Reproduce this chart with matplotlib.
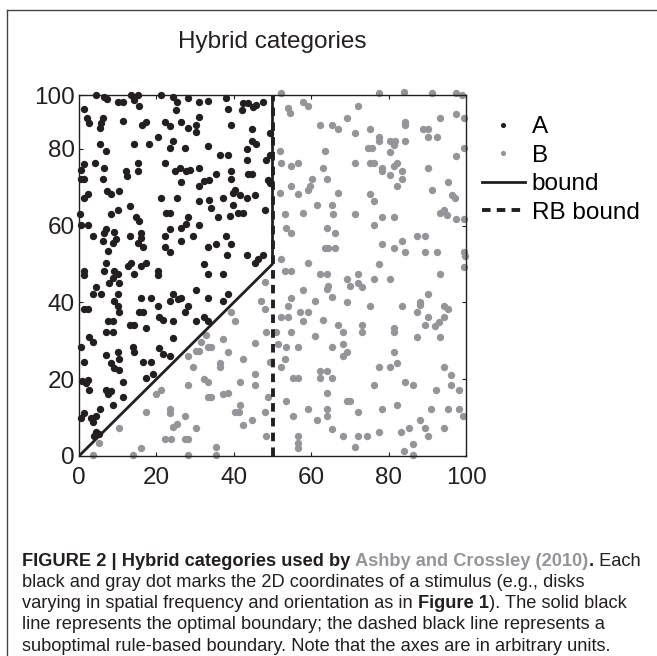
import matplotlib
matplotlib.use('Agg')
import matplotlib.pyplot as plt
from matplotlib.font_manager import FontProperties
from matplotlib.lines import Line2D

plt.rcParams['font.family'] = ['Liberation Sans', 'DejaVu Sans']

# category A stimuli (black)
a_points = [
    (4.4, 94.1), (6.5, 93.5), (7.2, 92.9), (10.2, 92.2), (11.3, 92.2), (13.4, 94.1), (14.3, 92.6),
    (15.6, 91.2), (15.2, 94.1), (21.2, 94.1), (24.2, 93.5), (25.4, 92.2), (28.1, 93.2), (31.0, 92.2),
    (33.3, 92.4), (1.2, 90.3), (2.0, 87.9), (2.6, 86.6), (6.1, 88.1), (5.8, 86.6), (5.5, 85.3),
    (11.3, 87.2), (16.2, 86.2), (17.3, 87.0), (22.1, 87.0), (23.6, 86.0), (25.1, 90.1), (26.4, 87.0),
    (28.1, 85.3), (30.3, 86.2), (30.3, 84.3), (31.1, 88.3), (20.4, 83.1), (5.5, 81.2), (7.0, 79.3),
    (14.3, 81.2), (18.2, 81.2), (23.4, 80.1), (24.2, 82.0), (27.3, 80.1), (33.3, 80.6), (1.4, 76.0),
    (0.5, 74.5), (0.5, 72.2), (1.4, 72.2), (4.1, 76.2), (6.5, 75.1), (6.1, 72.2), (12.2, 74.2),
    (12.4, 73.0), (15.2, 76.2), (15.2, 74.2), (22.2, 76.2), (24.7, 74.2), (26.0, 75.1), (26.4, 71.3),
    (27.7, 74.1), (28.6, 74.5), (31.1, 75.1), (31.1, 70.2), (32.4, 71.7), (33.7, 71.9), (1.4, 67.3),
    (2.2, 68.2), (7.2, 69.1), (8.3, 68.2), (10.4, 69.1), (13.3, 65.0), (21.2, 67.2), (25.4, 67.2),
    (31.1, 66.3), (33.7, 66.7), (0.3, 63.0), (8.3, 63.0), (10.2, 64.1), (14.7, 62.2), (22.5, 63.3),
    (23.4, 63.3), (28.1, 62.2), (34.0, 64.6),
    (38.1, 93.3), (38.5, 90.3), (42.4, 92.0), (43.7, 91.8), (45.0, 90.9), (45.8, 91.4), (47.6, 92.2),
    (42.0, 90.1), (39.4, 86.2), (44.6, 85.1), (49.3, 84.0), (44.6, 82.0), (45.8, 81.2), (43.3, 80.0),
    (36.4, 78.4), (38.5, 78.4), (43.3, 77.1), (48.4, 77.1), (49.3, 78.4), (35.5, 73.4), (39.4, 74.1),
    (39.4, 72.2), (43.7, 73.4), (44.6, 73.4), (48.9, 71.9), (49.3, 71.1), (40.2, 69.3), (39.8, 68.5),
    (41.5, 68.0), (37.2, 67.3), (43.3, 67.2), (45.4, 68.0), (39.8, 65.4), (41.1, 63.3), (42.4, 63.3),
    (48.0, 64.1), (35.9, 62.2), (38.9, 62.4),
    (15.6, 61.1), (0.5, 60.1), (2.2, 60.1), (7.0, 59.2), (6.5, 58.1), (9.1, 58.3), (3.5, 57.2),
    (6.1, 56.1), (8.7, 55.5), (9.6, 56.4), (7.4, 53.3), (13.3, 57.2), (16.0, 58.1), (16.0, 56.8),
    (15.2, 55.5), (16.5, 54.4), (22.1, 57.2), (23.4, 59.2), (26.4, 59.4), (27.7, 60.4), (26.4, 56.1),
    (29.4, 57.2), (31.1, 60.1), (22.1, 54.4), (23.4, 53.2), (33.3, 54.4), (1.4, 48.3), (1.4, 47.1),
    (7.0, 50.3), (6.5, 48.2), (9.1, 48.3), (10.0, 47.3), (8.7, 46.4), (7.8, 45.1), (10.4, 45.1),
    (4.4, 44.0), (12.6, 49.5), (13.4, 50.3), (14.3, 47.3), (16.0, 49.5), (17.3, 50.3), (20.4, 48.3),
    (20.4, 47.1), (32.4, 50.1), (33.3, 47.3), (3.5, 42.3), (5.7, 42.3), (10.0, 42.3), (9.1, 40.4),
    (10.0, 39.1), (10.4, 37.4), (1.4, 38.2), (2.2, 38.2), (16.0, 41.1), (18.5, 41.1), (20.4, 39.1),
    (23.4, 40.4), (24.2, 42.3), (25.5, 40.8), (26.4, 41.2), (28.1, 39.1), (27.3, 37.4), (30.3, 43.2),
    (20.8, 36.1), (21.6, 35.4), (24.2, 35.2), (15.6, 37.4), (16.5, 37.4), (7.4, 35.2), (8.7, 35.2),
    (13.3, 34.2), (14.3, 34.2), (17.3, 33.3), (30.3, 35.2), (32.4, 36.2), (33.3, 35.2), (7.0, 32.4),
    (8.7, 32.4), (2.6, 31.1), (24.2, 30.7),
    (38.1, 57.2), (39.4, 55.2), (35.5, 55.2), (38.3, 52.3), (43.3, 52.3), (45.4, 50.3), (46.3, 51.2),
    (47.6, 52.3), (37.2, 47.3), (33.3, 41.1), (37.2, 40.4), (38.5, 42.3),
    (3.5, 29.6), (0.5, 28.5), (7.0, 26.4), (10.0, 27.2), (10.4, 25.3), (13.9, 28.3), (14.3, 27.2),
    (16.5, 24.4), (18.6, 24.4), (20.8, 28.1), (21.6, 26.6), (23.4, 26.1), (1.4, 24.4), (8.3, 24.1),
    (9.1, 22.9), (10.4, 22.4), (0.9, 19.6), (2.2, 19.8), (1.8, 19.0), (11.3, 19.2), (17.3, 20.3),
    (19.1, 21.4), (2.6, 17.2), (7.0, 17.2), (8.3, 16.9), (7.4, 16.2), (11.3, 15.3), (8.7, 13.4),
    (5.5, 12.3), (1.4, 11.2), (0.5, 10.0), (3.1, 10.0), (4.4, 10.3), (3.5, 8.9), (4.4, 6.3),
    (5.2, 5.8), (3.9, 5.1),
]

# category B stimuli (gray)
b_points = [
    (52.2, 94.6), (54.1, 90.5), (54.5, 89.2), (57.9, 92.2), (59.2, 91.2), (62.3, 86.2), (65.3, 86.2),
    (66.8, 85.1), (51.9, 79.3), (52.3, 76.2), (54.9, 75.4), (56.6, 76.2), (63.6, 79.3), (63.1, 75.1),
    (60.1, 72.2), (64.2, 72.2), (54.9, 70.2), (56.6, 68.2), (59.2, 69.3), (59.7, 70.2), (51.9, 68.5),
    (67.0, 68.5), (61.4, 65.4), (65.3, 65.4), (53.2, 62.9), (57.9, 63.3), (65.7, 62.9),
    (77.4, 94.6), (83.9, 94.8), (91.2, 94.6), (97.3, 94.6), (99.0, 93.9), (72.2, 91.2), (69.2, 88.1),
    (71.3, 84.0), (75.2, 85.1), (77.4, 83.1), (77.4, 81.9), (80.4, 81.9), (81.7, 82.0), (81.3, 81.0),
    (84.3, 82.0), (84.3, 86.9), (84.3, 86.2), (89.0, 85.1), (90.3, 85.1), (90.3, 83.1), (92.5, 83.1),
    (93.4, 88.1), (97.3, 89.0), (99.4, 88.1), (99.5, 80.1), (97.3, 78.2), (74.8, 80.1), (75.7, 80.1),
    (80.4, 79.1), (71.3, 76.2), (75.2, 76.2), (76.1, 76.2), (78.3, 74.9), (78.3, 74.1), (81.3, 75.4),
    (82.1, 76.2), (80.4, 73.2), (83.4, 74.2), (83.4, 72.2), (82.1, 70.2), (90.3, 75.1), (91.2, 69.2),
    (95.4, 71.3), (96.4, 67.9), (97.1, 67.2), (75.2, 68.2), (76.1, 66.3), (71.3, 63.0), (78.3, 62.2),
    (81.3, 62.2), (93.4, 63.3), (94.2, 64.1), (95.1, 62.8), (97.3, 61.6), (99.4, 61.6),
    (32.9, 31.6),
    (53.6, 59.4), (54.9, 58.1), (64.0, 59.4), (66.1, 58.1), (63.6, 54.2), (64.4, 54.2), (66.1, 54.2),
    (52.3, 51.4), (59.2, 50.3), (53.2, 48.2), (54.9, 48.2), (62.3, 47.3), (64.0, 47.3), (64.4, 44.3),
    (64.0, 43.4), (65.3, 41.3), (57.9, 43.2), (54.9, 41.1), (54.1, 39.1), (61.0, 40.4), (48.0, 45.4),
    (47.1, 40.4), (48.0, 38.2), (40.2, 35.2), (39.4, 37.4), (52.3, 36.1), (54.1, 36.1), (57.1, 37.4),
    (59.2, 37.4), (57.9, 35.2), (63.1, 35.4), (51.0, 32.2), (54.9, 32.2), (61.0, 31.3), (67.0, 34.2),
    (37.2, 30.5),
    (76.1, 60.2), (78.3, 55.2), (81.3, 54.2), (83.4, 56.1), (84.3, 53.2), (87.3, 57.2), (89.5, 57.2),
    (89.5, 53.2), (92.5, 53.2), (99.5, 53.2), (99.7, 52.0), (99.4, 49.2), (77.4, 50.1), (72.2, 47.3),
    (69.2, 46.0), (70.1, 44.3), (72.2, 45.1), (73.1, 44.0), (76.1, 46.0), (80.4, 46.0), (93.4, 47.3),
    (69.2, 40.2), (75.2, 39.1), (83.4, 39.1), (90.3, 42.1), (88.2, 40.2), (88.2, 39.3), (87.3, 37.4),
    (90.3, 36.1), (94.2, 39.1), (95.4, 38.2), (94.2, 36.1), (92.9, 34.8), (92.1, 33.9), (89.5, 34.2),
    (73.1, 34.2), (73.1, 32.2), (68.3, 32.2), (81.3, 33.3), (81.3, 32.2), (87.3, 31.1), (93.4, 31.1),
    (30.3, 27.4), (31.1, 27.4), (28.1, 26.1), (29.4, 23.3), (32.4, 20.1), (33.3, 19.2), (21.2, 17.2),
    (19.9, 16.2), (28.1, 18.4), (33.3, 15.3), (17.3, 11.4), (23.4, 12.3), (23.4, 11.2), (27.3, 10.3),
    (24.2, 7.6), (25.4, 8.4), (30.3, 7.4), (10.4, 7.4), (5.2, 3.4), (22.1, 4.3), (23.8, 4.3),
    (27.3, 4.3), (28.1, 4.3), (16.0, 2.2), (13.9, 0.2), (3.5, 0.2), (28.1, 0.2),
    (48.4, 32.2), (31.6, 29.8), (33.3, 28.3), (34.2, 28.3), (38.5, 27.2), (45.4, 29.3), (51.5, 29.1),
    (53.6, 28.3), (56.6, 28.3), (65.3, 28.3), (36.4, 24.1), (36.4, 23.3), (42.4, 25.3), (49.3, 24.4),
    (52.3, 23.3), (53.2, 25.3), (41.5, 19.2), (45.4, 21.4), (45.4, 18.4), (55.3, 20.3), (56.6, 20.3),
    (62.3, 22.2), (64.0, 22.2), (62.3, 20.3), (65.3, 20.3), (34.2, 15.3), (37.2, 16.2), (38.5, 16.4),
    (48.9, 15.3), (53.6, 14.3), (64.0, 16.4), (41.5, 13.2), (40.2, 11.4), (41.3, 11.4), (48.0, 11.4),
    (44.6, 9.3), (42.4, 8.2), (55.3, 10.3), (59.2, 12.3), (61.4, 9.3), (64.0, 12.3), (64.0, 10.3),
    (65.3, 7.1), (48.4, 5.1), (56.6, 5.1), (56.6, 3.3), (56.6, 2.0), (35.5, 2.4), (35.5, 0.3),
    (68.3, 29.1), (69.2, 27.2), (68.3, 26.1), (81.3, 27.2), (77.4, 23.3), (80.4, 23.3), (82.1, 24.1),
    (94.2, 23.3), (96.2, 21.2), (76.1, 18.4), (84.3, 19.2), (86.2, 18.4), (92.2, 17.2), (96.2, 18.4),
    (98.1, 17.2), (69.2, 14.3), (70.1, 14.3), (72.2, 11.4), (78.3, 12.3), (82.1, 13.4), (91.0, 12.3),
    (95.4, 12.3), (98.1, 12.3), (99.2, 10.3), (88.2, 9.3), (89.3, 7.4), (85.2, 7.4), (83.3, 6.3),
    (90.2, 5.1), (94.2, 7.4), (68.3, 5.1), (72.2, 5.1), (74.4, 5.1), (77.4, 6.3), (71.3, 2.4),
    (84.1, 1.3), (86.2, 3.2), (86.2, 0.2),
]

a_x = [p[0] for p in a_points]
a_y = [p[1] for p in a_points]
b_x = [p[0] for p in b_points]
b_y = [p[1] for p in b_points]

# optimal boundary and rule-based boundary
bound_x = [0, 50, 50]
bound_y = [0, 50, 100]
rb_x = [50, 50]
rb_y = [0, 100]

# the printed axis is cut at the top, where the last label reads 100
y_top = 94.0
xticks = [0, 20, 40, 60, 80, 100]
yticks = [0, 20, 40, 60, 80, y_top]
ytick_labels = ['0', '20', '40', '60', '80', '100']
legend_labels = ['A', 'B', 'bound', 'RB bound']

black = '#231f20'
gray = '#939598'

W, H = 657, 656
fig = plt.figure(figsize=(W / 100, H / 100), dpi=100)
fig.patch.set_facecolor('white')

# outer frame of the page clip
fig.add_artist(Line2D([7 / W, 7 / W], [0, 1 - 10 / H], color='#444444', lw=1.0))
fig.add_artist(Line2D([7 / W, 1], [1 - 10 / H, 1 - 10 / H], color='#444444', lw=1.0))

ax = fig.add_axes([79 / W, 1 - 456 / H, 387 / W, 361 / H])

la, = ax.plot(a_x, a_y, 'o', color=black, markersize=5.3, markeredgewidth=0, clip_on=False, zorder=2)
lb, = ax.plot(b_x, b_y, 'o', color=gray, markersize=5.3, markeredgewidth=0, clip_on=False, zorder=2)
lbound, = ax.plot(bound_x, bound_y, '-', color=black, lw=2.0, zorder=3)
lrb, = ax.plot(rb_x, rb_y, '--', color=black, lw=2.8, zorder=3, dashes=(2.2, 1.6))

ax.set_xlim(0, 100)
ax.set_ylim(0, y_top)
ax.set_xticks(xticks)
ax.set_yticks(yticks)
ax.set_yticklabels(ytick_labels)
ax.tick_params(direction='in', length=3, width=0.8, labelsize=17.5, top=True, right=True,
               colors=black)
ax.tick_params(axis='x', pad=8)
ax.tick_params(axis='y', pad=3)
for s in ax.spines.values():
    s.set_linewidth(1.0)
    s.set_color(black)

fig.text(272.5 / W, 1 - 42 / H, 'Hybrid categories', ha='center', va='center', fontsize=17.5, color=black)

fig.legend([la, lb, lbound, lrb], legend_labels, loc='upper left',
           bbox_to_anchor=(482 / W, 1 - 116 / H), frameon=False, fontsize=17.5,
           handlelength=1.75, handletextpad=0.3, labelspacing=0.27, markerscale=0.7,
           borderpad=0, borderaxespad=0)

# caption, fitted to the width of the printed text block
cap_family = 'Liberation Sans'
cap_lines = [
    [('FIGURE 2 | Hybrid categories used by ', 'bold', black), ('Ashby and Crossley (2010)', 'bold', gray),
     ('.', 'bold', black), (' Each', 'normal', black)],
    [('black and gray dot marks the 2D coordinates of a stimulus (e.g., disks', 'normal', black)],
    [('varying in spatial frequency and orientation as in ', 'normal', black), ('Figure 1', 'bold', black),
     ('). The solid black', 'normal', black)],
    [('line represents the optimal boundary; the dashed black line represents a', 'normal', black)],
    [('suboptimal rule-based boundary. Note that the axes are in arbitrary units.', 'normal', black)],
]

r = fig.canvas.get_renderer()


def seg_width(txt, weight, size):
    prop = FontProperties(family=cap_family, weight=weight, size=size)
    w1 = r.get_text_width_height_descent(txt + 'x', prop, ismath=False)[0]
    w2 = r.get_text_width_height_descent('x', prop, ismath=False)[0]
    return w1 - w2


w10 = max(sum(seg_width(t, wt, 10) for t, wt, c in line) for line in cap_lines)
cap_size = 10 * 618 / w10

for i, parts in enumerate(cap_lines):
    y = 1 - (561 + i * 21.3) / H
    x_px = 22
    for txt, wt, col in parts:
        fig.text(x_px / W, y, txt, family=cap_family, fontweight=wt, color=col,
                 fontsize=cap_size, ha='left', va='center')
        x_px += seg_width(txt, wt, cap_size)

fig.savefig('out.png', dpi=100)
